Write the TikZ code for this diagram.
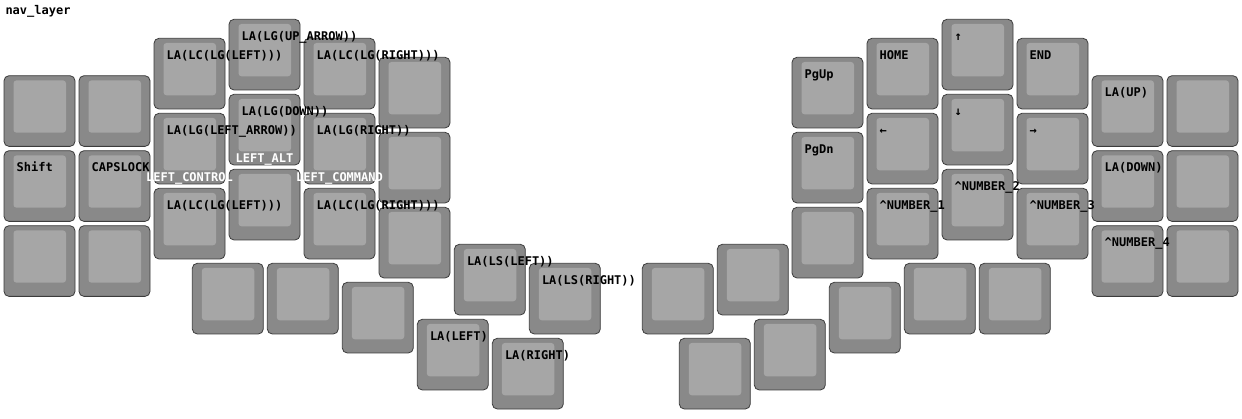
\documentclass[tikz,border=0pt]{standalone}
\usepackage{fontspec}
\newfontfamily\keyfont{DejaVu Sans Mono}
\definecolor{keygray}{RGB}{137,137,137}
\definecolor{keylight}{RGB}{166,166,166}
\definecolor{keyedge}{RGB}{60,60,60}
\tikzset{
  keybody/.style={fill=keygray,draw=keyedge,line width=.8pt,rounded corners=5pt},
  keytop/.style={fill=keylight,rounded corners=3pt},
  tap/.style={anchor=base west,inner sep=0pt,
    font=\keyfont\bfseries\fontsize{12}{12}\selectfont},
  hold/.style={anchor=base,inner sep=0pt,text=white,
    font=\keyfont\bfseries\fontsize{12}{12}\selectfont}
}
\begin{document}
\begin{tikzpicture}[x=1pt,y=-1pt]
  \useasboundingbox (0,0) rectangle (1242,419);
  \node[tap] (title) at (5.3,14.7) {nav\_layer};
  % finger columns, three rows each
  \foreach \x/\y in {4/75.7,79/75.7,154/38.3,229/19.3,304/38.3,379/57.3,
      792/57.3,867/38.3,942/19.3,1017/38.3,1092/75.7,1167/75.7}
    \foreach \r in {0,1,2}{
      \draw[keybody] (\x,\y+75*\r) rectangle ++(71,70.7);
      \path[keytop] (\x+9.5,\y+75*\r+4.7) rectangle (\x+62,\y+75*\r+57);
    }
  % thumb keys
  \foreach \x/\y in {192.3/263.3,267.3/263.3,342.3/282.3,454.3/244.3,
      529.3/263.3,417.3/319.3,492.3/338.3,642.3/263.3,717.3/244.3,
      679.3/338.3,754.3/319.3,829.3/282.3,904.3/263.3,979.3/263.3}{
    \draw[keybody] (\x,\y) rectangle ++(71,70.7);
    \path[keytop] (\x+9.5,\y+4.7) rectangle (\x+62,\y+57);
  }
  % left half
  \node[tap] (shift) at (16.5,171.7) {Shift};
  \node[tap] (caps) at (91.5,171.7) {CAPSLOCK};
  \node[tap] (wordleft) at (166.5,59.3) {LA(LC(LG(LEFT)))};
  \node[tap] (larrow) at (166.5,134.3) {LA(LG(LEFT\_ARROW))};
  \node[tap] (wordleftb) at (166.5,209.3) {LA(LC(LG(LEFT)))};
  \node[tap] (uarrow) at (241.5,40.3) {LA(LG(UP\_ARROW))};
  \node[tap] (darrow) at (241.5,115.3) {LA(LG(DOWN))};
  \node[tap] (wordright) at (316.5,59.3) {LA(LC(LG(RIGHT)))};
  \node[tap] (rarrow) at (316.5,134.3) {LA(LG(RIGHT))};
  \node[tap] (wordrightb) at (316.5,209.3) {LA(LC(LG(RIGHT)))};
  \node[hold] (lctrl) at (189.5,181.4) {LEFT\_CONTROL};
  \node[hold] (lalt) at (264.5,162.4) {LEFT\_ALT};
  \node[hold] (lcmd) at (339.5,181.4) {LEFT\_COMMAND};
  \node[tap] (selleft) at (466.8,265.3) {LA(LS(LEFT))};
  \node[tap] (selright) at (541.8,284.3) {LA(LS(RIGHT))};
  \node[tap] (altleft) at (429.8,340.3) {LA(LEFT)};
  \node[tap] (altright) at (504.8,359.3) {LA(RIGHT)};
  % right half
  \node[tap] (pgup) at (804.5,78.3) {PgUp};
  \node[tap] (pgdn) at (804.5,153.3) {PgDn};
  \node[tap] (home) at (879.5,59.3) {HOME};
  \node[tap] (left) at (879.5,134.3) {←};
  \node[tap] (numone) at (879.5,209.3) {\textasciicircum NUMBER\_1};
  \node[tap] (up) at (954.5,40.3) {↑};
  \node[tap] (down) at (954.5,115.3) {↓};
  \node[tap] (numtwo) at (954.5,190.3) {\textasciicircum NUMBER\_2};
  \node[tap] (end) at (1029.5,59.3) {END};
  \node[tap] (right) at (1029.5,134.3) {→};
  \node[tap] (numthree) at (1029.5,209.3) {\textasciicircum NUMBER\_3};
  \node[tap] (altup) at (1104.5,96.7) {LA(UP)};
  \node[tap] (altdown) at (1104.5,171.7) {LA(DOWN)};
  \node[tap] (numfour) at (1104.5,246.7) {\textasciicircum NUMBER\_4};
\end{tikzpicture}
\end{document}
